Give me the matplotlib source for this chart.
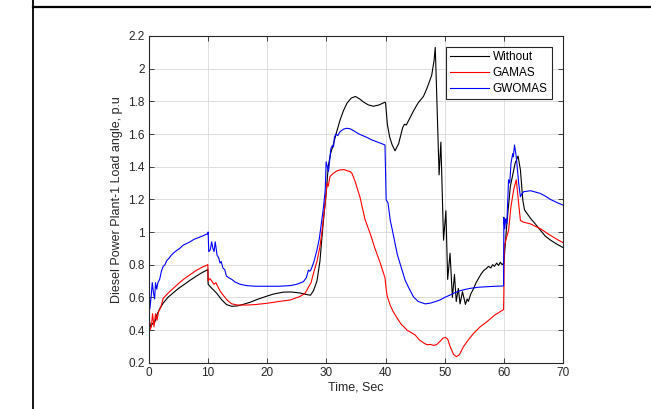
import matplotlib
matplotlib.use("Agg")
import matplotlib.pyplot as plt
from matplotlib.lines import Line2D

plt.rcParams['font.family'] = ['Liberation Sans', 'DejaVu Sans']

# ---- data ----
t_without = [0, 0.3, 0.6, 1.0, 1.3, 1.8, 2.4, 3.2, 4.1, 5.0, 6.0, 7.0, 8.0, 9.0, 9.95,
             10.0, 10.5, 11.45, 12.3, 13.1, 14.0, 15.0, 16.0, 17.1, 18.5, 19.9, 21.0, 22.7,
             24.0, 25.5, 26.7, 27.3, 27.8, 28.4, 28.9, 29.2, 29.5, 29.8, 30.0, 30.3, 30.7,
             31.2, 31.7, 32.3, 32.9, 33.5, 34.2, 34.9, 35.6, 36.3, 37.1, 37.95, 38.9, 39.9,
             40.0, 40.3, 40.7, 41.1, 41.6, 42.2, 42.9, 43.2, 43.5, 44.0, 44.7, 45.5, 46.4,
             47.0, 47.8, 48.2, 48.4, 48.6, 49.05, 49.35, 49.8, 50.2, 50.5, 50.9, 51.3, 51.65,
             51.95, 52.3, 52.6, 53.0, 53.5, 53.8, 54.0, 54.4, 54.9, 55.3, 55.7, 56.1, 56.6,
             57.0, 57.4, 57.8, 58.1, 58.4, 58.8, 59.1, 59.4, 59.7, 60.0, 60.5, 61.1, 61.9,
             62.4, 62.8, 63.2, 63.5, 64.5, 65.3, 66.2, 67.0, 67.9, 69.0, 70.0]
v_without = [0.46, 0.42, 0.44, 0.45, 0.49, 0.53, 0.565, 0.60, 0.628, 0.655, 0.68, 0.706, 0.73, 0.752, 0.77,
             0.68, 0.66, 0.625, 0.585, 0.556, 0.545, 0.548, 0.558, 0.57, 0.59, 0.607, 0.62, 0.632,
             0.633, 0.627, 0.617, 0.613, 0.64, 0.70, 0.82, 0.95, 1.07, 1.18, 1.25, 1.40, 1.48,
             1.54, 1.61, 1.685, 1.745, 1.79, 1.82, 1.83, 1.815, 1.795, 1.778, 1.77, 1.778, 1.795,
             1.79, 1.66, 1.58, 1.535, 1.497, 1.54, 1.64, 1.66, 1.655, 1.69, 1.74, 1.79, 1.83,
             1.88, 1.96, 2.05, 2.13, 1.90, 1.35, 1.55, 0.95, 1.13, 0.71, 0.87, 0.60, 0.74,
             0.575, 0.655, 0.56, 0.635, 0.557, 0.59, 0.575, 0.62, 0.655, 0.69, 0.715, 0.74, 0.765,
             0.775, 0.79, 0.78, 0.80, 0.79, 0.81, 0.795, 0.815, 0.80, 0.81, 1.05, 1.28, 1.42,
             1.465, 1.38, 1.196, 1.135, 1.084, 1.05, 1.01, 0.975, 0.95, 0.925, 0.905]

t_gamas = [0, 0.15, 0.4, 0.6, 0.85, 1.1, 1.35, 1.6, 2.0, 2.4, 3.2, 4.1, 5.0, 6.0, 7.0, 8.0, 9.0, 9.95,
           10.0, 10.3, 10.6, 11.0, 11.3, 12.0, 12.5, 13.3, 14.0, 15.0, 16.5, 18.0, 20.0, 22.0, 23.9,
           25.5, 26.4, 27.0, 27.4, 27.8, 28.4, 28.9, 29.2, 29.5, 29.8, 30.1, 30.3, 30.6, 31.2, 31.8,
           32.3, 33.0, 33.5, 34.0, 34.3, 34.85, 35.7, 36.5, 37.4, 38.2, 39.1, 39.9, 40.1, 40.3, 40.8,
           41.3, 42.0, 42.75, 43.1, 43.6, 44.3, 45.0, 45.7, 46.4, 47.0, 47.6, 48.1, 48.6, 49.2, 49.7,
           50.1, 50.5, 50.9, 51.5, 52.0, 52.5, 53.2, 54.0, 54.9, 56.0, 57.1, 58.4, 59.7, 59.95, 60.0,
           60.07, 60.4, 60.8, 61.2, 61.65, 62.1, 62.5, 62.8, 63.35, 64.5, 65.3, 66.2, 67.0, 67.85,
           69.0, 70.0]
v_gamas = [0.55, 0.40, 0.42, 0.50, 0.42, 0.50, 0.46, 0.51, 0.54, 0.594, 0.625, 0.655, 0.685, 0.715, 0.74, 0.765, 0.785, 0.80,
           0.70, 0.715, 0.70, 0.68, 0.69, 0.64, 0.615, 0.58, 0.56, 0.553, 0.553, 0.556, 0.564, 0.575, 0.584,
           0.605, 0.625, 0.665, 0.69, 0.747, 0.82, 0.91, 0.99, 1.09, 1.18, 1.30, 1.28, 1.34, 1.36, 1.375,
           1.38, 1.382, 1.375, 1.37, 1.36, 1.31, 1.21, 1.08, 0.99, 0.90, 0.81, 0.72, 0.65, 0.604, 0.55,
           0.512, 0.47, 0.43, 0.42, 0.40, 0.385, 0.37, 0.34, 0.322, 0.31, 0.312, 0.306, 0.31, 0.33, 0.35,
           0.355, 0.345, 0.30, 0.25, 0.237, 0.25, 0.30, 0.34, 0.38, 0.42, 0.45, 0.49, 0.52, 0.525, 0.625,
           0.91, 0.96, 1.01, 1.155, 1.257, 1.32, 1.176, 1.07, 1.06, 1.05, 1.035, 1.02, 1.0, 0.98,
           0.955, 0.935]

t_gwomas = [0, 0.15, 0.35, 0.55, 0.75, 0.95, 1.1, 1.3, 1.5, 1.8, 2.1, 2.4, 2.7, 3.0, 3.4, 3.7, 4.1,
            4.6, 5.2, 5.8, 6.4, 6.94, 7.6, 8.3, 9.0, 9.95, 10.0, 10.1, 10.35, 10.6, 10.8, 11.0, 11.2,
            11.5, 11.8, 12.0, 12.2, 12.5, 12.8, 13.1, 13.5, 14.0, 14.5, 15.4, 16.5, 18.0, 20.0, 22.0,
            23.9, 25.0, 26.1, 26.6, 26.95, 27.2, 27.4, 27.9, 28.4, 28.8, 29.2, 29.5, 29.8, 29.95, 30.15,
            30.35, 30.75, 31.0, 31.2, 31.35, 31.6, 31.9, 32.3, 32.9, 33.45, 34.0, 34.6, 35.5, 36.8,
            37.6, 38.5, 39.2, 39.9, 40.1, 40.4, 40.8, 41.1, 41.6, 42.0, 42.5, 43.0, 43.3, 43.9, 44.7,
            45.5, 46.7, 47.6, 48.5, 49.2, 50.0, 50.9, 51.5, 52.5, 53.4, 54.3, 55.7, 57.1, 58.5, 59.95,
            60.0, 60.15, 60.3, 60.5, 60.8, 61.0, 61.2, 61.5, 61.6, 61.8, 62.1, 62.5, 62.8, 63.0, 63.35,
            64.0, 64.5, 65.3, 66.1, 67.0, 67.85, 69.0, 70.0]
v_gwomas = [0.67, 0.53, 0.60, 0.69, 0.63, 0.59, 0.69, 0.65, 0.69, 0.71, 0.76, 0.79, 0.80, 0.825, 0.84, 0.855, 0.87,
            0.885, 0.90, 0.92, 0.93, 0.94, 0.955, 0.965, 0.975, 0.99, 1.0, 0.88, 0.89, 0.94, 0.90, 0.88, 0.94,
            0.86, 0.84, 0.81, 0.82, 0.78, 0.77, 0.73, 0.72, 0.71, 0.695, 0.68, 0.672, 0.668, 0.668, 0.668,
            0.672, 0.68, 0.696, 0.72, 0.767, 0.76, 0.77, 0.82, 0.89, 0.96, 1.07, 1.15, 1.26, 1.43, 1.40,
            1.37, 1.51, 1.53, 1.52, 1.58, 1.60, 1.59, 1.614, 1.63, 1.635, 1.632, 1.62, 1.60, 1.58,
            1.565, 1.553, 1.543, 1.533, 1.196, 1.18, 1.07, 1.02, 0.93, 0.86, 0.80, 0.74, 0.706, 0.66, 0.604,
            0.575, 0.56, 0.565, 0.575, 0.584, 0.60, 0.614, 0.625, 0.64, 0.648, 0.655, 0.662, 0.665, 0.668, 0.67,
            1.09, 1.02, 1.08, 1.05, 1.32, 1.30, 1.42, 1.48, 1.46, 1.533, 1.46, 1.30, 1.216, 1.23, 1.247,
            1.25, 1.253, 1.245, 1.237, 1.22, 1.20, 1.18, 1.165]

series_labels = ["Without", "GAMAS", "GWOMAS"]
x_ticks = [0, 10, 20, 30, 40, 50, 60, 70]
y_ticks = [0.2, 0.4, 0.6, 0.8, 1, 1.2, 1.4, 1.6, 1.8, 2, 2.2]
y_ticklabels = ["0.2", "0.4", "0.6", "0.8", "1", "1.2", "1.4", "1.6", "1.8", "2", "2.2"]

# ---- figure ----
W, H = 651, 409
fig = plt.figure(figsize=(W / 100, H / 100), dpi=100)
ax = fig.add_axes([149 / W, 1 - 362.7 / H, (563 - 149) / W, (362.7 - 36) / H])

ax.plot(t_without, v_without, color='black', lw=0.8, label=series_labels[0])
ax.plot(t_gamas, v_gamas, color='#ff0000', lw=0.8, label=series_labels[1])
ax.plot(t_gwomas, v_gwomas, color='#0000ff', lw=0.8, label=series_labels[2])

ax.set_xlim(0, 70)
ax.set_ylim(0.2, 2.2)
ax.set_xticks(x_ticks)
ax.set_yticks(y_ticks)
ax.set_yticklabels(y_ticklabels)
ax.grid(True, color='#dedede', lw=0.7)
ax.set_axisbelow(True)
ax.tick_params(direction='in', length=3.5, width=0.6, top=True, right=True,
               labelsize=8.5, colors='#262626', pad=3)
for sp in ax.spines.values():
    sp.set_color('#262626')
    sp.set_linewidth(0.8)

ax.set_xlabel("Time, Sec", fontsize=9, color='#262626', labelpad=2)
ax.set_ylabel("Diesel Power Plant-1 Load angle, p.u", fontsize=9, color='#262626', labelpad=4)

leg = ax.legend(loc='upper right', bbox_to_anchor=(0.973, 0.967), borderaxespad=0,
                fontsize=8.5, handlelength=3.3, handletextpad=0.3, labelspacing=0.35,
                borderpad=0.35, fancybox=False, framealpha=1)
leg.get_frame().set_edgecolor('#262626')
leg.get_frame().set_linewidth(0.8)

# page frame lines
fig.add_artist(Line2D([33 / W, 1], [1 - 7 / H, 1 - 7 / H], transform=fig.transFigure,
                      color='black', lw=1.6))
fig.add_artist(Line2D([33 / W, 33 / W], [0, 1], transform=fig.transFigure,
                      color='black', lw=1.3))

fig.savefig("out.png", dpi=100)
